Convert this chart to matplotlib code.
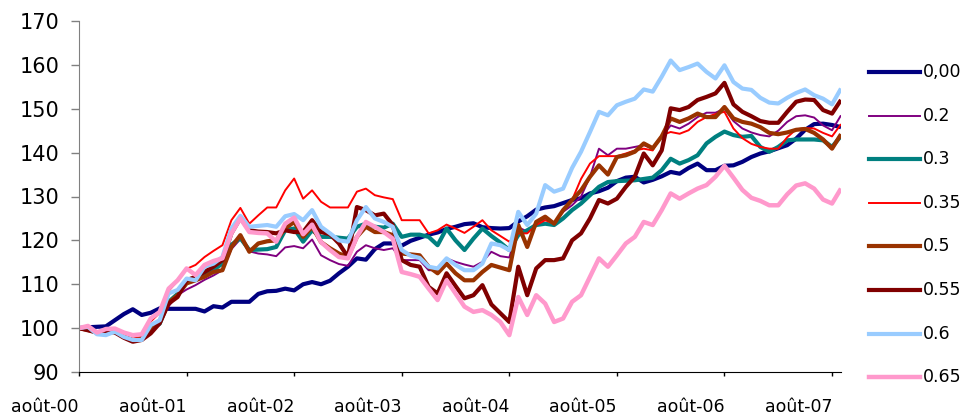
import matplotlib
matplotlib.use("Agg")
import matplotlib.pyplot as plt
from matplotlib.lines import Line2D

# monthly index values, août 2000 -> septembre 2007 (base 100)
months = list(range(86))
year_labels = ['août-00', 'août-01', 'août-02', 'août-03', 'août-04', 'août-05', 'août-06', 'août-07']
year_ticks = [0, 12, 24, 36, 48, 60, 72, 84]

s000 = [100.0, 100.2, 100.3, 100.4, 101.8, 103.2, 104.3, 103.0, 103.5, 104.5,
        104.4, 104.4, 104.4, 104.4, 103.8, 105.0, 104.7, 106.0, 106.0, 106.0,
        107.8, 108.4, 108.5, 109.0, 108.6, 110.0, 110.5, 110.0, 110.8, 112.5,
        114.0, 115.9, 115.6, 118.0, 119.3, 119.3, 118.8, 119.9, 120.6, 121.3,
        121.8, 122.6, 123.1, 123.7, 123.9, 123.0, 122.8, 122.7, 122.8, 124.3,
        125.5, 127.0, 127.5, 127.8, 128.5, 129.2, 129.6, 130.7, 131.2, 132.0,
        133.5, 134.3, 134.5, 133.2, 133.8, 134.6, 135.6, 135.2, 136.5, 137.5,
        136.0, 136.0, 137.0, 137.1, 137.9, 139.0, 139.8, 140.3, 141.0, 141.7,
        143.2, 145.2, 146.5, 146.6, 146.3, 145.8]

s020 = [100.0, 100.0, 99.2, 99.4, 99.3, 98.2, 97.5, 97.8, 99.8, 101.5,
        105.0, 107.5, 108.8, 109.8, 111.0, 112.0, 113.2, 118.0, 120.3, 117.5,
        117.0, 116.8, 116.4, 118.4, 118.7, 118.2, 120.2, 116.6, 115.5, 114.6,
        114.2, 117.4, 118.9, 118.2, 117.8, 118.2, 115.5, 115.5, 115.5, 113.2,
        113.2, 115.9, 115.1, 114.5, 114.0, 115.1, 117.4, 116.4, 116.1, 123.0,
        122.0, 124.0, 125.0, 124.0, 126.5, 128.0, 130.0, 134.5, 140.9, 139.4,
        140.9, 140.9, 141.3, 141.7, 140.9, 143.6, 146.2, 145.5, 146.6, 148.1,
        149.1, 149.1, 150.0, 147.2, 145.5, 144.6, 144.0, 143.7, 145.0, 147.0,
        148.3, 148.5, 148.0, 146.2, 145.1, 148.5]

s030 = [100.0, 99.8, 99.0, 99.2, 99.2, 98.0, 97.2, 97.5, 99.8, 101.0,
        106.0, 107.8, 110.4, 111.0, 112.5, 113.3, 114.7, 119.0, 120.5, 117.8,
        117.9, 118.0, 118.5, 122.3, 122.7, 119.7, 122.3, 120.8, 120.8, 120.6,
        120.4, 123.1, 123.8, 123.1, 122.9, 123.8, 120.8, 121.3, 121.3, 120.8,
        118.9, 122.7, 120.0, 117.8, 120.4, 122.7, 121.0, 119.5, 117.8, 121.2,
        122.3, 123.5, 123.8, 123.5, 125.0, 126.9, 128.4, 130.3, 132.2, 133.3,
        133.5, 133.6, 133.7, 134.0, 134.3, 136.0, 138.6, 137.5, 138.3, 139.4,
        142.1, 143.6, 144.8, 144.0, 143.6, 143.8, 141.3, 140.2, 141.3, 142.8,
        143.0, 143.0, 143.0, 142.8, 141.3, 143.8]

s035 = [100.0, 100.2, 99.3, 99.6, 99.6, 98.2, 97.6, 98.0, 101.5, 103.5,
        108.5, 110.8, 113.5, 114.4, 116.2, 117.6, 118.9, 124.6, 127.4, 123.8,
        125.7, 127.5, 127.5, 131.4, 134.1, 129.5, 131.4, 128.8, 127.5, 127.5,
        127.5, 131.1, 131.8, 130.3, 129.8, 129.4, 124.6, 124.6, 124.6, 121.6,
        122.3, 123.6, 122.7, 121.7, 123.1, 124.6, 122.3, 121.0, 119.7, 121.6,
        121.6, 123.5, 124.6, 123.8, 126.9, 129.2, 134.0, 137.5, 139.2, 139.2,
        139.2, 139.8, 140.5, 140.9, 140.5, 144.0, 144.7, 144.3, 145.1, 147.0,
        148.1, 148.8, 149.3, 145.5, 143.3, 142.0, 141.3, 140.9, 140.9, 143.5,
        145.3, 145.6, 145.5, 144.5, 143.7, 146.5]

s050 = [100.0, 99.6, 99.0, 99.3, 99.2, 98.0, 97.2, 97.5, 99.5, 101.5,
        105.8, 107.5, 110.2, 110.9, 111.7, 112.8, 113.2, 118.5, 121.2, 117.4,
        119.3, 119.8, 120.0, 122.7, 124.2, 120.8, 123.1, 119.6, 118.2, 117.0,
        116.2, 120.8, 123.1, 121.9, 121.9, 121.2, 117.0, 116.8, 116.6, 114.0,
        112.5, 114.7, 112.5, 110.9, 110.9, 112.8, 114.4, 113.8, 113.2, 123.5,
        118.5, 124.2, 125.4, 123.8, 126.9, 129.2, 131.4, 134.5, 137.1, 135.0,
        139.0, 139.4, 140.2, 142.1, 141.0, 143.7, 147.8, 147.0, 147.8, 148.9,
        148.1, 148.1, 150.4, 147.8, 147.0, 146.6, 145.8, 144.5, 144.2, 144.6,
        145.2, 145.4, 144.5, 143.0, 140.9, 144.2]

s055 = [100.0, 99.5, 99.0, 99.2, 99.0, 97.8, 96.9, 97.3, 98.8, 101.1,
        105.6, 107.1, 110.9, 111.7, 112.8, 114.0, 115.5, 121.6, 125.1, 122.3,
        122.0, 121.9, 121.6, 122.3, 121.9, 121.9, 124.6, 121.9, 121.4, 119.3,
        116.2, 127.6, 126.9, 125.7, 126.1, 123.5, 115.5, 114.4, 114.0, 109.4,
        107.9, 112.5, 109.6, 106.8, 107.5, 109.8, 105.4, 103.4, 101.4, 114.0,
        107.5, 113.6, 115.5, 115.5, 115.9, 120.0, 121.6, 125.0, 129.2, 128.4,
        129.5, 132.2, 134.5, 139.8, 137.1, 140.5, 150.1, 149.7, 150.4, 152.0,
        152.7, 153.5, 155.9, 151.0, 149.3, 148.3, 147.2, 146.8, 146.8, 149.3,
        151.6, 152.1, 152.0, 149.7, 148.9, 152.0]

s060 = [100.0, 100.3, 98.6, 98.4, 99.2, 98.0, 97.3, 97.3, 100.7, 101.8,
        107.9, 108.7, 111.3, 110.9, 114.0, 114.7, 116.2, 122.7, 125.6, 123.1,
        123.3, 123.5, 123.1, 125.5, 126.0, 124.6, 126.9, 123.1, 121.6, 120.0,
        119.7, 124.6, 127.6, 125.0, 124.2, 123.1, 117.8, 116.5, 116.0, 114.0,
        113.6, 115.9, 114.4, 113.2, 113.2, 114.7, 119.3, 118.9, 117.8, 126.5,
        123.5, 126.1, 132.6, 131.1, 131.8, 136.5, 140.2, 144.7, 149.3, 148.5,
        150.8, 151.6, 152.3, 154.4, 153.9, 157.3, 161.0, 158.8, 159.5, 160.3,
        158.4, 156.9, 159.9, 156.1, 154.6, 154.3, 152.5, 151.4, 151.2, 152.5,
        153.6, 154.4, 153.1, 152.3, 151.0, 154.6]

s065 = [100.0, 100.5, 99.0, 99.8, 99.9, 99.0, 98.4, 98.6, 102.2, 103.7,
        109.0, 110.9, 113.6, 112.1, 114.4, 115.3, 115.9, 121.6, 125.0, 121.9,
        121.7, 121.6, 119.7, 123.8, 125.2, 121.4, 123.6, 119.6, 117.8, 116.2,
        115.9, 120.8, 124.2, 123.1, 121.9, 120.4, 112.8, 112.3, 111.7, 109.0,
        106.4, 110.9, 107.9, 104.9, 103.7, 104.1, 103.0, 101.4, 98.4, 107.1,
        103.0, 107.5, 105.6, 101.4, 102.2, 106.0, 107.5, 111.7, 115.9, 114.0,
        116.6, 119.3, 120.8, 124.2, 123.5, 126.9, 130.7, 129.5, 130.7, 131.8,
        132.6, 134.5, 137.0, 134.3, 131.5, 129.7, 129.0, 128.0, 128.0, 130.5,
        132.5, 133.0, 131.8, 129.3, 128.4, 131.8]

labels = ['0,00', '0.2', '0.3', '0.35', '0.5', '0.55', '0.6', '0.65']
colors = ['#000080', '#800080', '#008080', '#FF0000', '#993300', '#800000', '#99CCFF', '#FF99CC']
widths = [3.0, 1.4, 3.0, 1.4, 3.0, 3.0, 3.0, 3.2]
series = [s000, s020, s030, s035, s050, s055, s060, s065]

W, H = 966, 417
fig = plt.figure(figsize=(W / 100, H / 100), dpi=100)
ax = fig.add_axes([79 / W, 1 - 372 / H, (841 - 79) / W, (372 - 21) / H])

for vals, col, lw in zip(series, colors, widths):
    ax.plot(months, vals, color=col, linewidth=lw, solid_joinstyle='round',
            solid_capstyle='butt')

ax.set_xlim(0, 85)
ax.set_ylim(90, 170)
ax.set_yticks(range(90, 171, 10))
ax.tick_params(axis='y', labelsize=15, length=6, width=1, color='#808080', pad=8)
ax.set_xticks(year_ticks)
ax.set_xticklabels(year_labels, ha='right', fontsize=12.5)
ax.tick_params(axis='x', length=3, width=1, color='black', pad=16)

for side in ['top', 'right']:
    ax.spines[side].set_visible(False)
ax.spines['left'].set_color('#808080')
ax.spines['bottom'].set_color('black')

# legend drawn at the right of the plot
for k, (lab, col, lw) in enumerate(zip(labels, colors, widths)):
    yc = 1 - (72 + k * 43.6) / H
    fig.add_artist(Line2D([869 / W, 920 / W], [yc, yc], transform=fig.transFigure,
                          color=col, linewidth=lw))
    fig.text(923 / W, yc, lab, fontsize=12.5, va='center', ha='left')

fig.savefig('out.png', dpi=100)
